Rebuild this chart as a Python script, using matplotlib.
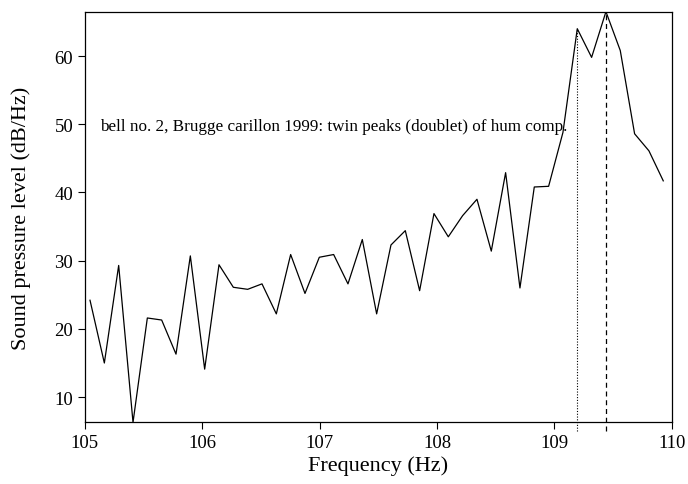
import numpy as np
import matplotlib
matplotlib.use("Agg")
import matplotlib.pyplot as plt

# Spectrum of bell no. 2 around the hum component
freq_start = 105.043
freq_step = 0.1221
spl = [24.2, 15.0, 29.3, 6.3, 21.6, 21.3, 16.3, 30.7, 14.1, 29.4,
       26.1, 25.8, 26.6, 22.2, 30.9, 25.2, 30.5, 30.9, 26.6, 33.1,
       22.2, 32.3, 34.4, 25.6, 36.9, 33.5, 36.6, 39.0, 31.4, 42.9,
       26.0, 40.8, 40.9, 48.8, 64.0, 59.8, 66.5, 60.8, 48.6, 46.1,
       41.7]
freqs = freq_start + freq_step * np.arange(len(spl))

# the two peaks of the doublet
peak1_idx = 34
peak2_idx = 36

plt.rcParams['font.family'] = ['Liberation Serif', 'DejaVu Serif']

fig = plt.figure(figsize=(6.88, 4.85), dpi=100)
ax = fig.add_axes([0.1235, 0.1285, 0.853, 0.844])

ax.plot(freqs, spl, color='black', linewidth=0.9)

ymin, ymax = 6.4, 66.4
below = ymin - 1.35
ax.vlines(freqs[peak1_idx], below, spl[peak1_idx], colors='black',
          linestyles=(0, (1, 1.5)), linewidth=0.8, clip_on=False)
ax.vlines(freqs[peak2_idx], below, ymax, colors='black',
          linestyles=(0, (4, 3)), linewidth=0.9, clip_on=False)

ax.text(105.13, 49.7, "bell no. 2, Brugge carillon 1999: twin peaks (doublet) of hum comp.",
        fontsize=12.3, va='center', ha='left')

ax.set_xlim(105, 110)
ax.set_ylim(ymin, ymax)
ax.set_xticks([105, 106, 107, 108, 109, 110])
ax.set_yticks([10, 20, 30, 40, 50, 60])
ax.tick_params(labelsize=13.5, length=5, width=0.8, direction='out')
ax.tick_params(axis='x', pad=4)
for s in ax.spines.values():
    s.set_linewidth(0.9)

ax.set_xlabel("Frequency (Hz)", fontsize=16, labelpad=3)
ax.set_ylabel("Sound pressure level (dB/Hz)", fontsize=16, labelpad=17)

fig.savefig("out.png", dpi=100)
